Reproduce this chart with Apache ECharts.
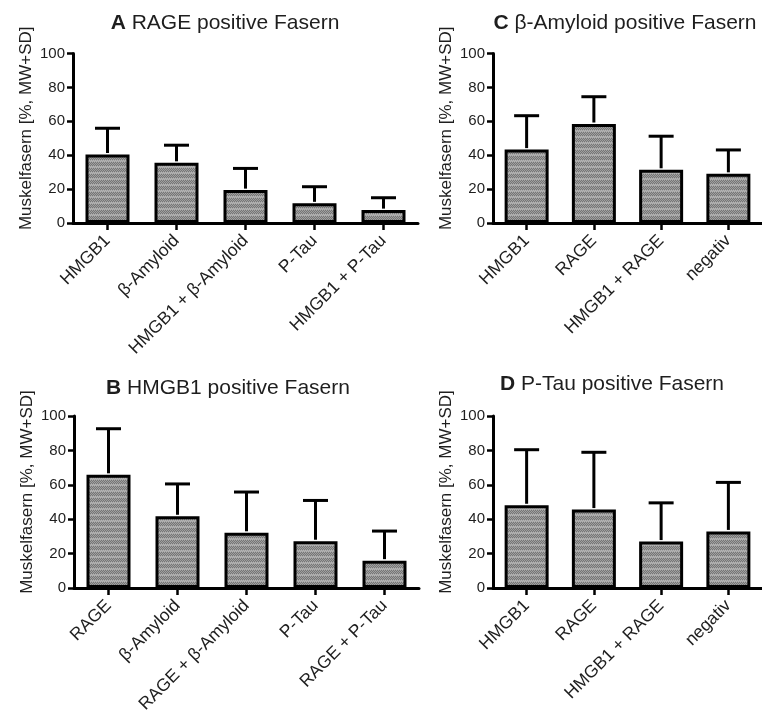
<!DOCTYPE html>
<html>
<head>
<meta charset="utf-8">
<script src="https://cdn.jsdelivr.net/npm/echarts@6/dist/echarts.min.js"></script>
<style>
html,body{margin:0;padding:0;background:#fff;}
#chart{width:762px;height:723px;}
</style>
</head>
<body>
<div id="chart"></div>
<script>
// ---- data ----
const titleA = 'RAGE positive Fasern';
const titleB = 'HMGB1 positive Fasern';
const titleC = 'β-Amyloid positive Fasern';
const titleD = 'P-Tau positive Fasern';
const yName = 'Muskelfasern [%, MW+SD]';
const yTicks = [0, 20, 40, 60, 80, 100];

const catsA = ['HMGB1', 'β-Amyloid', 'HMGB1 + β-Amyloid', 'P-Tau', 'HMGB1 + P-Tau'];
const meanA = [40.4, 35.5, 19.4, 11.6, 7.6];
const sdA = [15.5, 10.4, 12.8, 9.8, 7.3];

const catsB = ['RAGE', 'β-Amyloid', 'RAGE + β-Amyloid', 'P-Tau', 'RAGE + P-Tau'];
const meanB = [65.8, 41.7, 32.1, 27.2, 15.9];
const sdB = [26.8, 18.8, 23.7, 23.7, 17.2];

const catsC = ['HMGB1', 'RAGE', 'HMGB1 + RAGE', 'negativ'];
const meanC = [43.3, 58.4, 31.4, 29.0];
const sdC = [20.0, 16.1, 19.8, 14.1];

const catsD = ['HMGB1', 'RAGE', 'HMGB1 + RAGE', 'negativ'];
const meanD = [48.1, 45.6, 27.0, 32.9];
const sdD = [32.3, 33.3, 22.5, 28.5];

// ---- styling helpers ----
const FONT = '"Liberation Sans", Arial, Helvetica, sans-serif';
const TXT = '#1e1e1e';

function makePattern() {
  const c = document.createElement('canvas');
  c.width = 2; c.height = 6;
  const ctx = c.getContext('2d');
  for (let y = 0; y < 6; y++) {
    for (let x = 0; x < 2; x++) {
      let col;
      if (y >= 4) col = ((x + y) % 2) ? '#b4b4b4' : '#a0a0a0';
      else col = ((x + y) % 2) ? '#757575' : '#a0a0a0';
      ctx.fillStyle = col;
      ctx.fillRect(x, y, 1, 1);
    }
  }
  return c;
}
const pattern = { image: makePattern(), repeat: 'repeat' };

const panels = [
  { letter: 'A', title: titleA, cats: catsA, mean: meanA, sd: sdA,
    grid: { left: 73, top: 53.5, width: 345, height: 169.5 }, tx: 220, ty: 8 },
  { letter: 'C', title: titleC, cats: catsC, mean: meanC, sd: sdC,
    grid: { left: 493, top: 53.5, width: 274, height: 169.5 }, tx: 620, ty: 8 },
  { letter: 'B', title: titleB, cats: catsB, mean: meanB, sd: sdB,
    grid: { left: 74, top: 416, width: 345, height: 172 }, tx: 223, ty: 373 },
  { letter: 'D', title: titleD, cats: catsD, mean: meanD, sd: sdD,
    grid: { left: 493, top: 416, width: 274, height: 172 }, tx: 607, ty: 369 }
];

const option = {
  backgroundColor: '#ffffff',
  animation: false,
  title: [], grid: [], xAxis: [], yAxis: [], series: []
};

panels.forEach((p, i) => {
  option.title.push({
    text: '{b|' + p.letter + '} ' + p.title,
    left: p.tx, top: p.ty, textAlign: 'center',
    textStyle: {
      fontFamily: FONT, fontSize: 21, fontWeight: 'normal', color: TXT,
      rich: { b: { fontFamily: FONT, fontSize: 21, fontWeight: 'bold', color: TXT } }
    }
  });
  option.grid.push(Object.assign({ containLabel: false }, p.grid));
  option.xAxis.push({
    type: 'category', gridIndex: i, data: p.cats,
    axisLine: { show: true, lineStyle: { color: '#000', width: 3 } },
    axisTick: { show: true, alignWithLabel: true, length: 7, lineStyle: { color: '#000', width: 2.5 } },
    axisLabel: { rotate: 45, margin: 15, interval: 0, fontFamily: FONT, fontSize: 17.5, color: TXT },
    splitLine: { show: false }
  });
  option.yAxis.push({
    type: 'value', gridIndex: i, min: yTicks[0], max: yTicks[yTicks.length - 1], interval: 20,
    name: yName, nameLocation: 'middle', nameGap: 38, nameRotate: 90,
    nameTextStyle: { fontFamily: FONT, fontSize: 17, color: TXT, padding: [0, 0, 0, 20] },
    axisLine: { show: true, lineStyle: { color: '#000', width: 3 } },
    axisTick: { show: true, length: 6, lineStyle: { color: '#000', width: 2.5 } },
    axisLabel: { margin: 8, fontFamily: FONT, fontSize: 15, color: TXT },
    splitLine: { show: false }
  });
  option.series.push({
    type: 'bar', xAxisIndex: i, yAxisIndex: i,
    data: p.mean, barWidth: 44,
    itemStyle: { color: pattern, borderColor: '#000', borderWidth: 3 },
    z: 2
  });
  option.series.push({
    type: 'custom', xAxisIndex: i, yAxisIndex: i,
    data: p.mean.map((m, k) => [k, m, m + p.sd[k]]),
    encode: { x: 0, y: [1, 2] },
    z: 3,
    renderItem: function (params, api) {
      const x = api.value(0);
      const lo = api.coord([x, api.value(1)]);
      const hi = api.coord([x, api.value(2)]);
      const half = 12.5;
      const st = { stroke: '#000', lineWidth: 3, fill: null };
      return {
        type: 'group',
        children: [
          { type: 'line', shape: { x1: lo[0], y1: lo[1] - 1.5, x2: hi[0], y2: hi[1] }, style: st },
          { type: 'line', shape: { x1: hi[0] - half, y1: hi[1], x2: hi[0] + half, y2: hi[1] }, style: st }
        ]
      };
    }
  });
});

const chart = echarts.init(document.getElementById('chart'), null, { renderer: 'canvas' });
chart.setOption(option);
</script>
</body>
</html>
